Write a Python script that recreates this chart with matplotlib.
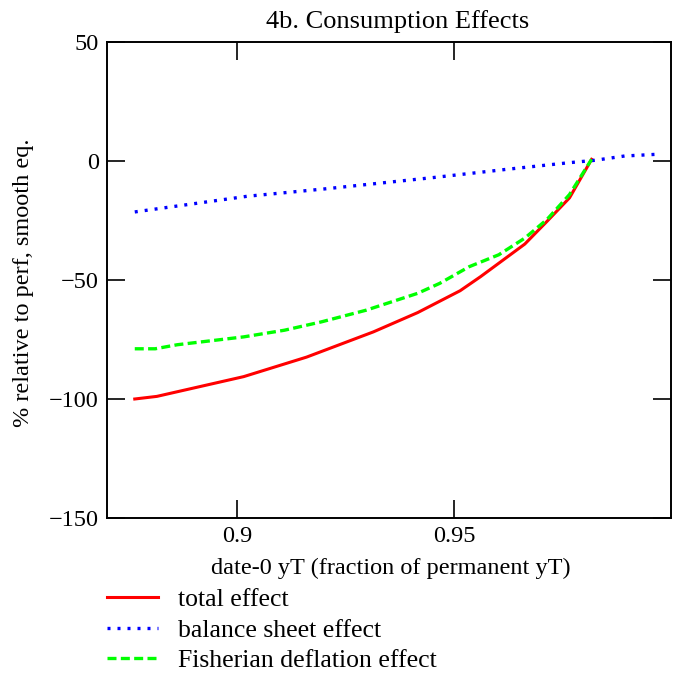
import numpy as np
import matplotlib
matplotlib.use("Agg")
from matplotlib import pyplot as plt

plt.rcParams['font.family'] = ['Liberation Serif', 'DejaVu Serif']
plt.rcParams['font.size'] = 17.5

x_total = [0.8764, 0.8815, 0.9015, 0.9160, 0.9314, 0.9416, 0.9514, 0.9561, 0.9663, 0.9714, 0.9766, 0.9817]
y_total = [-100.0, -98.9, -90.6, -82.4, -71.8, -63.7, -54.5, -48.6, -34.9, -25.4, -15.5, 0.7]

x_balance = [0.8764, 0.9024, 0.9203, 0.9450, 0.9621, 0.9766, 0.9825, 0.9893, 0.9966]
y_balance = [-21.4, -14.8, -11.7, -7.0, -3.5, -0.7, 0.3, 2.1, 2.8]

x_fisher = [0.8764, 0.8811, 0.8862, 0.9015, 0.9109, 0.9194, 0.9297, 0.9416, 0.9467, 0.9535, 0.9603, 0.9663, 0.9714, 0.9766, 0.9817]
y_fisher = [-78.9, -78.9, -77.2, -73.9, -71.1, -67.6, -62.7, -55.6, -51.4, -44.4, -39.4, -32.4, -24.6, -14.1, 0.7]

xticks = [0.9, 0.95]
xtick_labels = ["0.9", "0.95"]
yticks = [50, 0, -50, -100, -150]
ytick_labels = ["50", "0", "\u221250", "\u2212100", "\u2212150"]

fig = plt.figure(figsize=(6.79, 6.82), dpi=100)
ax = fig.add_axes([107/679, 1 - 518/682, (671 - 107)/679, (518 - 42)/682])

l1, = ax.plot(x_total, y_total, color="#ff0000", lw=2.2, label="total effect")
l2, = ax.plot(x_balance, y_balance, color="#0000ff", lw=2.4, dashes=(0.9, 2.1),
              label="balance sheet effect")
l3, = ax.plot(x_fisher, y_fisher, color="#00ff00", lw=2.4, dashes=(2.7, 1.3),
              label="Fisherian deflation effect")

ax.set_xlim(0.87, 1.0)
ax.set_ylim(-150, 50)
ax.set_xticks(xticks)
ax.set_xticklabels(xtick_labels)
ax.set_yticks(yticks)
ax.set_yticklabels(ytick_labels)
ax.tick_params(direction="in", length=13, width=1.2, top=True, right=True, pad=6)
for s in ax.spines.values():
    s.set_linewidth(1.4)

fig.text(398/679, 1 - 22/682, "4b. Consumption Effects", ha="center", va="center", fontsize=19)
fig.text(24/679, 1 - 283/682, "% relative to perf, smooth eq.", rotation=90,
         ha="center", va="center")
fig.text(391/679, 1 - 568/682, "date-0 yT (fraction of permanent yT)", ha="center", va="center")

fig.legend(handles=[l1, l2, l3], loc="upper left", bbox_to_anchor=(107/679, 1 - 588/682),
           frameon=False, handlelength=2.0, handletextpad=0.78, labelspacing=0.3,
           borderaxespad=0, borderpad=0, fontsize=18.5)

fig.savefig("out.png", dpi=100)
